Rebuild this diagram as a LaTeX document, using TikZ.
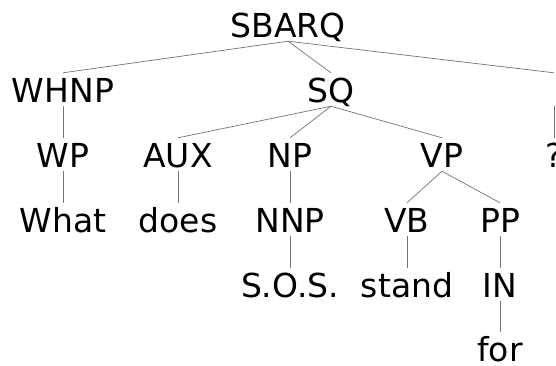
\documentclass[tikz,border=0pt]{standalone}
\usepackage{fontspec}
\setmainfont{DejaVu Sans}
\begin{document}
\begin{tikzpicture}[x=1pt,y=-1pt,
  tn/.style={font=\fontsize{33}{33}\selectfont, inner sep=0pt, text height=29pt, text depth=4pt, anchor=base},
  edge/.style={draw=black!55, line width=0.7pt}]
\useasboundingbox (0,0) rectangle (556,365);
% row 1
\node[tn] (sbarq) at (288,37) {SBARQ};
% row 2
\node[tn] (whnp) at (63,102) {WHNP};
\node[tn] (sq) at (331,102) {SQ};
\node[tn] (qtag) at (554,102) {};
% row 3
\node[tn] (wp) at (63,167) {WP};
\node[tn] (aux) at (178,167) {AUX};
\node[tn] (np) at (290,167) {NP};
\node[tn] (vp) at (442,167) {VP};
\node[tn] (q) at (554,167) {?};
% row 4
\node[tn] (what) at (63,232) {What};
\node[tn] (does) at (178,232) {does};
\node[tn] (nnp) at (290,232) {NNP};
\node[tn] (vb) at (407,232) {VB};
\node[tn] (pp) at (500,232) {PP};
% row 5
\node[tn] (sos) at (290,297) {S.O.S.};
\node[tn] (stand) at (407,297) {stand};
\node[tn] (in) at (500,297) {IN};
% row 6
\node[tn] (for) at (500,361) {for};
% edges
\draw[edge] (sbarq.south) -- (whnp.north);
\draw[edge] (sbarq.south) -- (sq.north);
\draw[edge] (sbarq.south) -- (qtag.north);
\draw[edge] (qtag.south) -- (q.north);
\draw[edge] (whnp.south) -- (wp.north);
\draw[edge] (wp.south) -- (what.north);
\draw[edge] (sq.south) -- (aux.north);
\draw[edge] (sq.south) -- (np.north);
\draw[edge] (sq.south) -- (vp.north);
\draw[edge] (aux.south) -- (does.north);
\draw[edge] (np.south) -- (nnp.north);
\draw[edge] (nnp.south) -- (sos.north);
\draw[edge] (vp.south) -- (vb.north);
\draw[edge] (vp.south) -- (pp.north);
\draw[edge] (vb.south) -- (stand.north);
\draw[edge] (pp.south) -- (in.north);
\draw[edge] (in.south) -- (for.north);
\end{tikzpicture}
\end{document}
